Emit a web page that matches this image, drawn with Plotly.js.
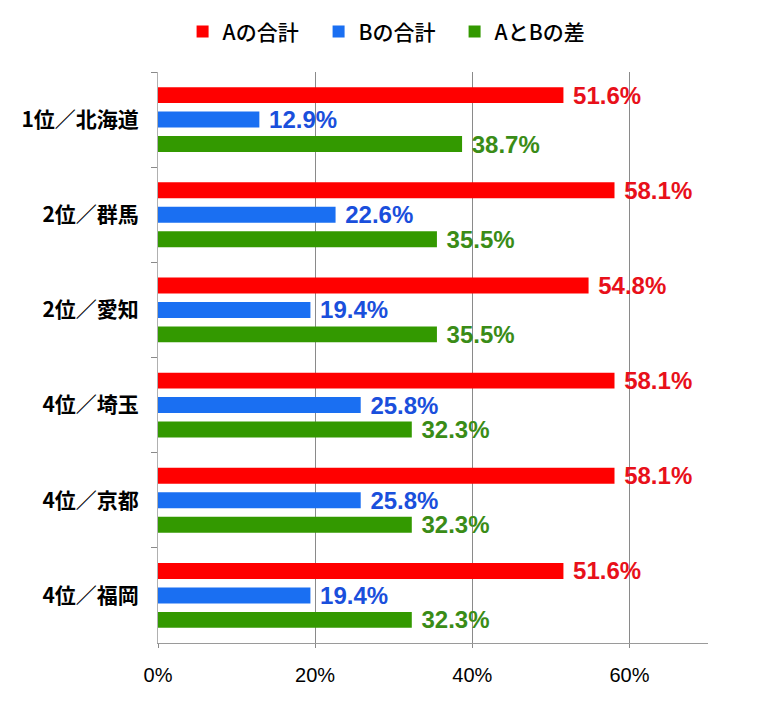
<!DOCTYPE html>
<html><head><meta charset="utf-8">
<script src="https://cdn.plot.ly/plotly-3.0.1.min.js"></script>
<style>html,body{margin:0;padding:0;background:#fff}#c{width:761px;height:707px}</style>
</head><body><div id="c"></div>
<script>
const categories = ["1位／北海道", "2位／群馬", "2位／愛知", "4位／埼玉", "4位／京都", "4位／福岡"];
const seriesNames = ["Aの合計", "Bの合計", "AとBの差"];
const seriesA = [51.6, 58.1, 54.8, 58.1, 58.1, 51.6];
const seriesB = [12.9, 22.6, 19.4, 25.8, 25.8, 19.4];
const seriesDiff = [38.7, 35.5, 35.5, 32.3, 32.3, 32.3];
const xTickVals = [0, 20, 40, 60];
const xTickText = ["0%", "20%", "40%", "60%"];

const barColors = ["#ff0000", "#1a6ff2", "#339900"];
const textColors = ["#e8101a", "#1a4fdc", "#3a8c17"];
const labelFont = '"Liberation Sans", Arial, sans-serif';
const jpFont = '"Noto Sans CJK JP", "Noto Sans", sans-serif';

const allSeries = [seriesA, seriesB, seriesDiff];
const traces = allSeries.map((vals, i) => ({
  type: "bar",
  orientation: "h",
  name: seriesNames[i],
  y: categories,
  x: vals,
  marker: {color: barColors[i]},
  text: vals.map(v => " " + v.toFixed(1) + "%"),
  textposition: "outside",
  constraintext: "none",
  cliponaxis: false,
  textfont: {family: labelFont, size: 24, color: textColors[i], weight: "bold"},
  hoverinfo: "none"
}));

const layout = {
  width: 761, height: 707,
  margin: {l: 158, r: 53, t: 72, b: 64},
  paper_bgcolor: "#fff", plot_bgcolor: "#fff",
  barmode: "group",
  bargap: 0.229,
  bargroupgap: 0.346,
  showlegend: true,
  legend: {orientation: "h", x: 0.508, xanchor: "center", xref: "container",
           y: 0.955, yanchor: "middle", yref: "container",
           font: {family: jpFont, size: 21, color: "#000", weight: 500},
           entrywidth: 91, itemwidth: 30, traceorder: "normal"},
  xaxis: {range: [0, 70], tickvals: xTickVals, ticktext: xTickText,
          showgrid: true, gridcolor: "#8a8a8a", gridwidth: 1, zeroline: false,
          showline: true, linecolor: "#9a9a9a", linewidth: 1,
          ticks: "outside", ticklen: 4, tickcolor: "#8a8a8a",
          ticklabelstandoff: 10,
          tickfont: {family: '"Liberation Sans", Arial, sans-serif', size: 20, color: "#000"}},
  yaxis: {autorange: "reversed", type: "category", showgrid: false, zeroline: false,
          showline: true, linecolor: "#b0b0b0", linewidth: 1,
          ticks: "outside", tickson: "boundaries", ticklen: 6, tickcolor: "#8a8a8a",
          ticklabelstandoff: 14,
          tickfont: {family: jpFont, size: 21, color: "#000", weight: "bold"}}
};
Plotly.newPlot("c", traces, layout, {displayModeBar: false, staticPlot: true});
</script></body></html>
